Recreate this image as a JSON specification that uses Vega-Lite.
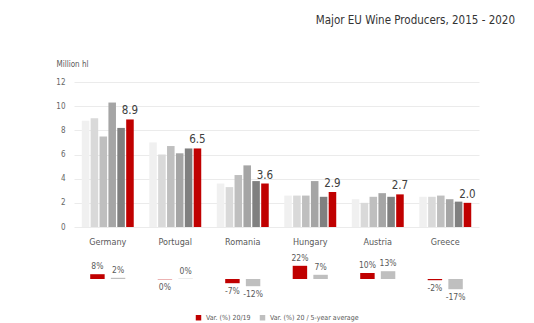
{
  "$schema": "https://vega.github.io/schema/vega-lite/v6.json",
  "background": "white",
  "padding": {"left": 55, "top": 14, "right": 10, "bottom": 4},
  "title": {"text": "Major EU Wine Producers, 2015 - 2020", "anchor": "end", "dx": 36, "fontSize": 11.5, "fontWeight": "normal", "color": "#333333", "font": "DejaVu Sans Condensed", "offset": 34},
  "config": {"view": {"stroke": null}, "font": "DejaVu Sans Condensed"},
  "resolve": {"scale": {"color": "independent", "xOffset": "independent", "x": "independent", "y": "independent"}, "legend": {"color": "independent"}},
  "datasets": {
    "prod": [
      {"country": "Germany", "year": "2015", "v": 8.8}, {"country": "Germany", "year": "2016", "v": 9.0}, {"country": "Germany", "year": "2017", "v": 7.5}, {"country": "Germany", "year": "2018", "v": 10.3}, {"country": "Germany", "year": "2019", "v": 8.2}, {"country": "Germany", "year": "2020", "v": 8.9},
      {"country": "Portugal", "year": "2015", "v": 7.0}, {"country": "Portugal", "year": "2016", "v": 6.0}, {"country": "Portugal", "year": "2017", "v": 6.7}, {"country": "Portugal", "year": "2018", "v": 6.1}, {"country": "Portugal", "year": "2019", "v": 6.5}, {"country": "Portugal", "year": "2020", "v": 6.5},
      {"country": "Romania", "year": "2015", "v": 3.6}, {"country": "Romania", "year": "2016", "v": 3.3}, {"country": "Romania", "year": "2017", "v": 4.3}, {"country": "Romania", "year": "2018", "v": 5.1}, {"country": "Romania", "year": "2019", "v": 3.8}, {"country": "Romania", "year": "2020", "v": 3.6},
      {"country": "Hungary", "year": "2015", "v": 2.6}, {"country": "Hungary", "year": "2016", "v": 2.6}, {"country": "Hungary", "year": "2017", "v": 2.6}, {"country": "Hungary", "year": "2018", "v": 3.8}, {"country": "Hungary", "year": "2019", "v": 2.5}, {"country": "Hungary", "year": "2020", "v": 2.9},
      {"country": "Austria", "year": "2015", "v": 2.3}, {"country": "Austria", "year": "2016", "v": 2.0}, {"country": "Austria", "year": "2017", "v": 2.5}, {"country": "Austria", "year": "2018", "v": 2.8}, {"country": "Austria", "year": "2019", "v": 2.5}, {"country": "Austria", "year": "2020", "v": 2.7},
      {"country": "Greece", "year": "2015", "v": 2.5}, {"country": "Greece", "year": "2016", "v": 2.5}, {"country": "Greece", "year": "2017", "v": 2.6}, {"country": "Greece", "year": "2018", "v": 2.3}, {"country": "Greece", "year": "2019", "v": 2.1}, {"country": "Greece", "year": "2020", "v": 2.0}
    ],
    "var": [
      {"country": "Germany", "series": "Var. (%) 20/19", "v": 8, "label": "8%"},
      {"country": "Germany", "series": "Var. (%) 20 / 5-year average", "v": 2, "label": "2%"},
      {"country": "Portugal", "series": "Var. (%) 20/19", "v": -0.5, "label": "0%"},
      {"country": "Portugal", "series": "Var. (%) 20 / 5-year average", "v": 0.5, "label": "0%"},
      {"country": "Romania", "series": "Var. (%) 20/19", "v": -7, "label": "-7%"},
      {"country": "Romania", "series": "Var. (%) 20 / 5-year average", "v": -12, "label": "-12%"},
      {"country": "Hungary", "series": "Var. (%) 20/19", "v": 22, "label": "22%"},
      {"country": "Hungary", "series": "Var. (%) 20 / 5-year average", "v": 7, "label": "7%"},
      {"country": "Austria", "series": "Var. (%) 20/19", "v": 10, "label": "10%"},
      {"country": "Austria", "series": "Var. (%) 20 / 5-year average", "v": 13, "label": "13%"},
      {"country": "Greece", "series": "Var. (%) 20/19", "v": -2, "label": "-2%"},
      {"country": "Greece", "series": "Var. (%) 20 / 5-year average", "v": -17, "label": "-17%"}
    ]
  },
  "spacing": 6,
  "vconcat": [
    {
      "width": 405,
      "height": 145,
      "data": {"name": "prod"},
      "encoding": {
        "x": {"field": "country", "type": "nominal", "sort": ["Germany", "Portugal", "Romania", "Hungary", "Austria", "Greece"], "scale": {"paddingInner": 0.23, "paddingOuter": 0.115},
          "axis": {"title": null, "labelAngle": 0, "domain": false, "ticks": false, "labelPadding": 10, "labelFontSize": 9, "labelColor": "#595959"}},
        "xOffset": {"field": "year", "type": "nominal", "scale": {"paddingInner": 0.15, "paddingOuter": 0}},
        "y": {"field": "v", "type": "quantitative", "scale": {"domain": [0, 12]},
          "axis": {"title": "Million hl", "titleAngle": 0, "titleAlign": "left", "titleBaseline": "bottom", "titleX": -18, "titleY": -14, "titleFontSize": 8, "titleFontWeight": "normal", "titleColor": "#595959", "values": [0, 2, 4, 6, 8, 10, 12], "domain": false, "ticks": false, "labelPadding": 9, "labelFontSize": 8, "labelColor": "#666666", "gridColor": "#ebebeb", "gridWidth": 1}}
      },
      "layer": [
        {"mark": {"type": "bar"},
          "encoding": {"color": {"field": "year", "type": "nominal", "legend": null, "scale": {"domain": ["2015", "2016", "2017", "2018", "2019", "2020"], "range": ["#f0f0f0", "#d9d9d9", "#bfbfbf", "#a5a5a5", "#808080", "#c00000"]}}}},
        {"transform": [{"filter": "datum.year == '2020'"}],
          "mark": {"type": "text", "baseline": "bottom", "dy": -3, "fontSize": 11.5, "color": "#404040"},
          "encoding": {"text": {"field": "v", "type": "quantitative", "format": ".1f"}}}
      ]
    },
    {
      "width": 405,
      "height": 45,
      "data": {"name": "var"},
      "encoding": {
        "x": {"field": "country", "type": "nominal", "sort": ["Germany", "Portugal", "Romania", "Hungary", "Austria", "Greece"], "scale": {"paddingInner": 0.48, "paddingOuter": 0.24}, "axis": null},
        "xOffset": {"field": "series", "type": "nominal", "sort": ["Var. (%) 20/19", "Var. (%) 20 / 5-year average"], "scale": {"paddingInner": 0.3, "paddingOuter": 0}},
        "y": {"field": "v", "type": "quantitative", "scale": {"domain": [-30, 45]}, "axis": null}
      },
      "layer": [
        {"mark": {"type": "bar"},
          "encoding": {"color": {"field": "series", "type": "nominal", "sort": ["Var. (%) 20/19", "Var. (%) 20 / 5-year average"], "scale": {"domain": ["Var. (%) 20/19", "Var. (%) 20 / 5-year average"], "range": ["#c00000", "#bfbfbf"]},
            "legend": {"title": null, "orient": "none", "direction": "horizontal", "legendX": 121, "legendY": 62, "symbolType": "square", "symbolSize": 30, "labelFontSize": 7, "labelColor": "#595959", "columnPadding": 8, "symbolStrokeWidth": 0}}}},
        {"transform": [{"filter": "datum.v >= 0"}],
          "mark": {"type": "text", "baseline": "bottom", "dy": -3, "fontSize": 8.5, "color": "#595959"},
          "encoding": {"text": {"field": "label", "type": "nominal"}}},
        {"transform": [{"filter": "datum.v < 0"}],
          "mark": {"type": "text", "baseline": "top", "dy": 4, "fontSize": 8.5, "color": "#595959"},
          "encoding": {"text": {"field": "label", "type": "nominal"}}}
      ]
    }
  ]
}
